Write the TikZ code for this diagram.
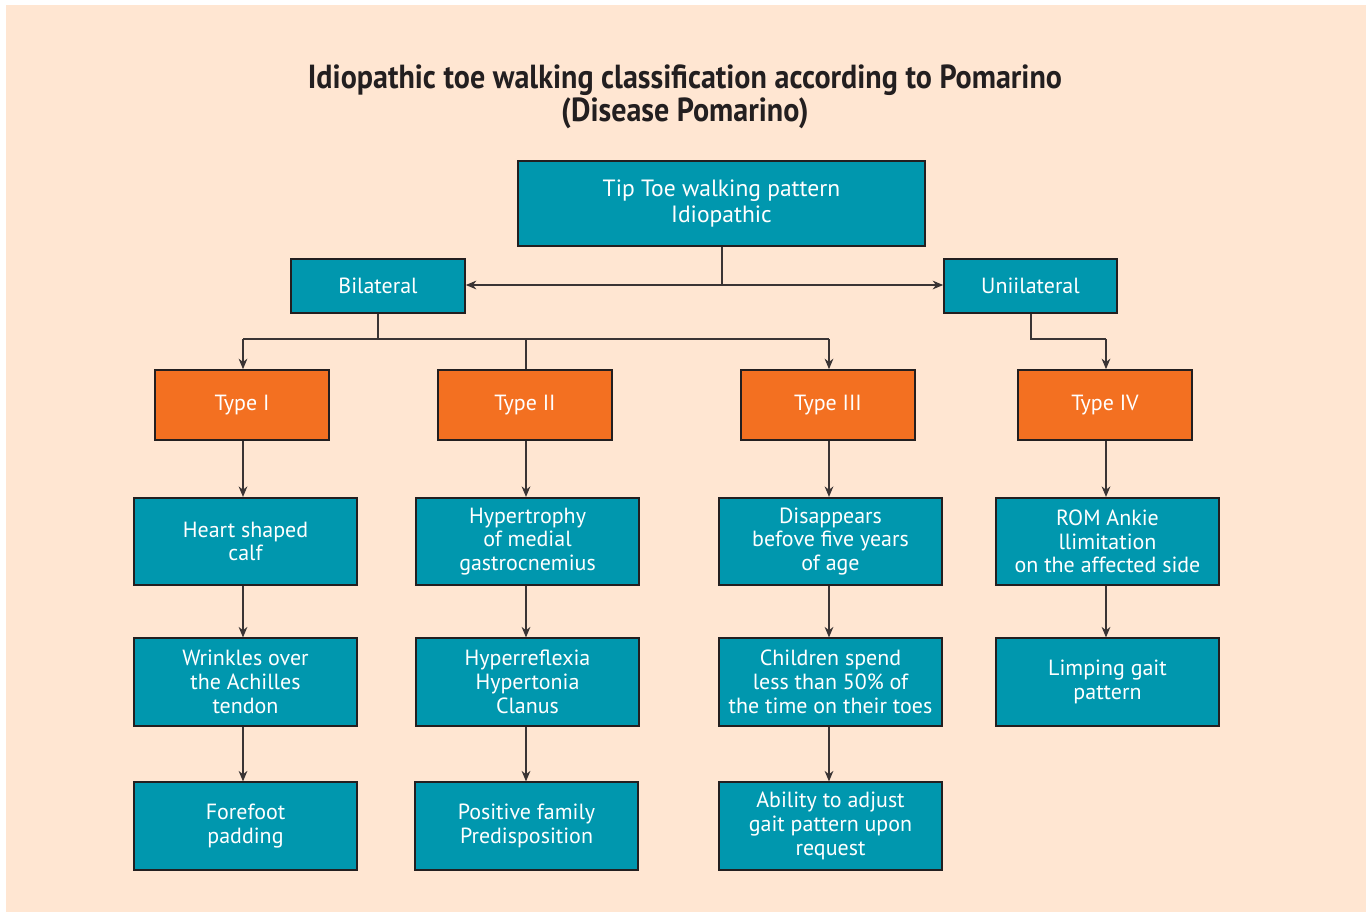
\documentclass[tikz,border=0pt]{standalone}
\usepackage{fontspec}
\setmainfont{PT Sans}
\newfontfamily\titlefont[FakeStretch=0.9]{PT Sans}
\usetikzlibrary{arrows.meta}
\definecolor{peach}{HTML}{FFE6D2}
\definecolor{teal}{HTML}{0097AE}
\definecolor{orng}{HTML}{F37021}
\definecolor{edge}{HTML}{231F20}
\definecolor{conn}{HTML}{3A3434}
\tikzset{
  box/.style={draw=edge, line width=1pt, text=white, align=center,
    font=\fontsize{12.5}{13.5}\selectfont, inner sep=0pt},
  tealbox/.style={box, fill=teal},
  orbox/.style={box, fill=orng, minimum width=3.48cm, minimum height=1.4cm},
  cbox/.style={tealbox, minimum width=4.46cm, minimum height=1.75cm},
  conline/.style={draw=conn, line width=0.6pt},
  arr/.style={conline, -{Stealth[length=6pt,width=5pt]}},
}
\begin{document}
\begin{tikzpicture}[x=0.02cm, y=-0.02cm]
\useasboundingbox (0,0) rectangle (1370,914);
\fill[white] (0,0) rectangle (1370,914);
\fill[peach] (6,5) rectangle (1366,912);
\node[font=\titlefont\bfseries\fontsize{19}{17}\selectfont, align=center, text=edge] (title) at (685,97)
  {Idiopathic toe walking classification according to Pomarino\\(Disease Pomarino)};

\node[tealbox, minimum width=8.14cm, minimum height=1.7cm, font=\fontsize{13.4}{15.3}\selectfont] (top) at (721.5,203.5) {Tip Toe walking pattern\\Idiopathic};
\node[tealbox, minimum width=3.48cm, minimum height=1.08cm] (bil) at (378,286) {Bilateral};
\node[tealbox, minimum width=3.46cm, minimum height=1.08cm] (uni) at (1030.5,286) {Uniilateral};

\node[orbox] (t1) at (242,405) {Type I};
\node[orbox] (t2) at (525,405) {Type II};
\node[orbox] (t3) at (828,405) {Type III};
\node[orbox] (t4) at (1105,405) {Type IV};

\node[cbox] (a1) at (245.5,541.5) {Heart shaped\\calf};
\node[cbox] (a2) at (527.5,541.5) {Hypertrophy\\of medial\\gastrocnemius};
\node[cbox] (a3) at (830.5,541.5) {Disappears\\befove five years\\of age};
\node[cbox] (a4) at (1107.5,541.5) {ROM Ankie\\llimitation\\on the affected side};

\node[cbox] (b1) at (245.5,682) {Wrinkles over\\the Achilles\\tendon};
\node[cbox] (b2) at (527.5,682) {Hyperreflexia\\Hypertonia\\Clanus};
\node[cbox] (b3) at (830.5,682) {Children spend\\less than 50\% of\\the time on their toes};
\node[cbox] (b4) at (1107.5,682) {Limping gait\\pattern};

\node[cbox] (c1) at (245.5,826) {Forefoot\\padding};
\node[cbox] (c2) at (526.5,826) {Positive family\\Predisposition};
\node[cbox] (c3) at (830.5,826) {Ability to adjust\\gait pattern upon\\request};

% top connectors
\coordinate (jt) at (722,285);
\draw[conline] (top.south -| jt) -- (jt);
\draw[arr] (jt) -- (bil.east |- jt);
\draw[arr] (jt) -- (uni.west |- jt);

% bilateral
\coordinate (jb) at (378,339);
\coordinate (j1) at (243,339);
\coordinate (j2) at (526,339);
\coordinate (j3) at (829,339);
\draw[conline] (bil.south) -- (jb);
\draw[conline] (j1) -- (j3);
\draw[arr] (j1) -- (t1.north -| j1);
\draw[conline] (j2) -- (t2.north -| j2);
\draw[arr] (j3) -- (t3.north -| j3);

% unilateral
\coordinate (ju) at (1031,339);
\coordinate (j4) at (1106,339);
\draw[conline] (uni.south -| ju) -- (ju) -- (j4);
\draw[arr] (j4) -- (t4.north -| j4);

% columns
\draw[arr] (t1.south -| j1) -- (a1.north -| j1);
\draw[arr] (a1.south -| j1) -- (b1.north -| j1);
\draw[arr] (b1.south -| j1) -- (c1.north -| j1);
\draw[arr] (t2.south -| j2) -- (a2.north -| j2);
\draw[arr] (a2.south -| j2) -- (b2.north -| j2);
\draw[arr] (b2.south -| j2) -- (c2.north -| j2);
\draw[arr] (t3.south -| j3) -- (a3.north -| j3);
\draw[arr] (a3.south -| j3) -- (b3.north -| j3);
\draw[arr] (b3.south -| j3) -- (c3.north -| j3);
\draw[arr] (t4.south -| j4) -- (a4.north -| j4);
\draw[arr] (a4.south -| j4) -- (b4.north -| j4);
\end{tikzpicture}
\end{document}
